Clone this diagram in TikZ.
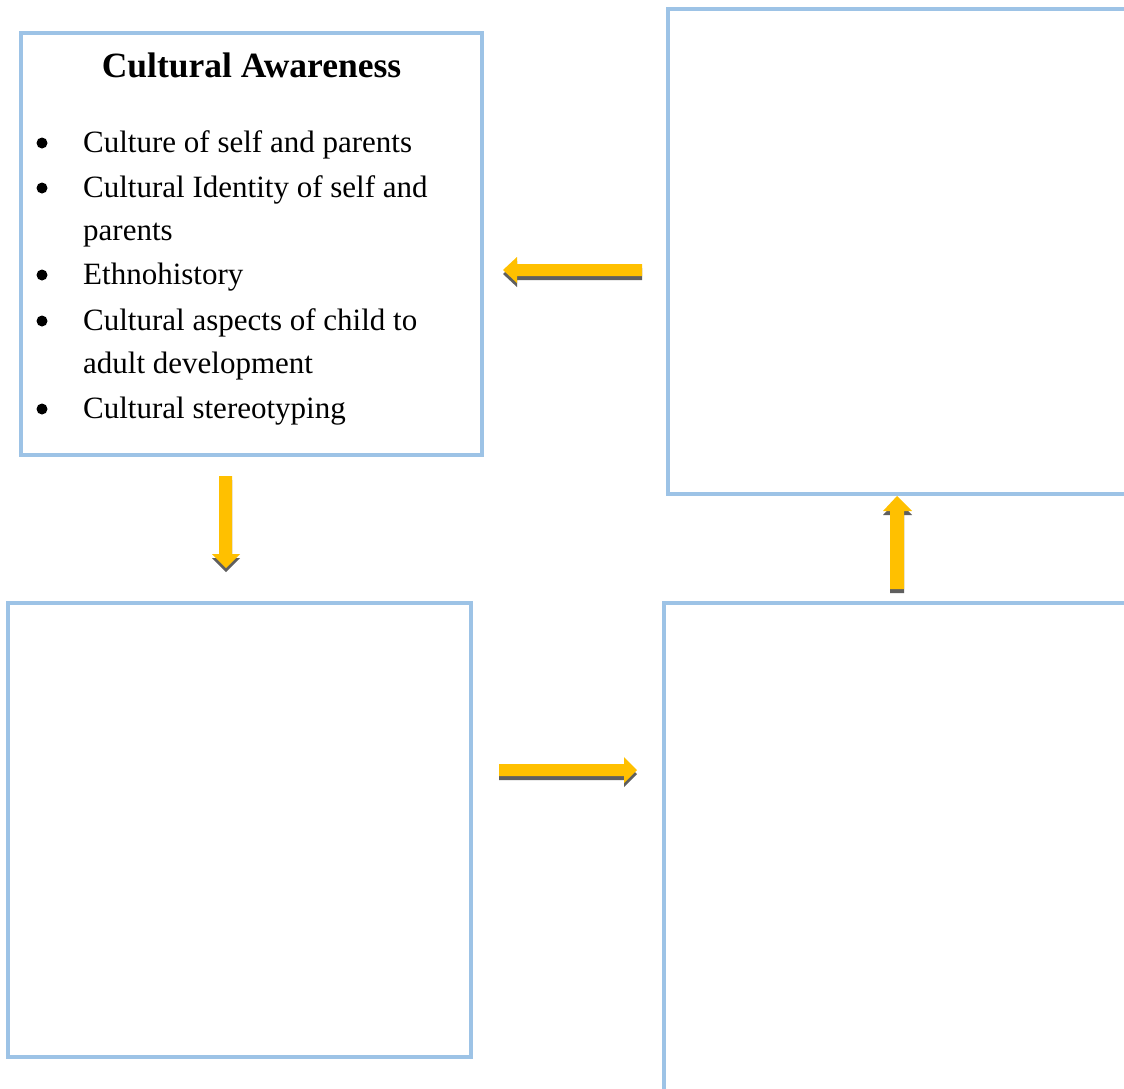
\documentclass[tikz,border=0pt]{standalone}
\usepackage{fontspec}
\setmainfont{Liberation Serif}
\definecolor{boxblue}{HTML}{9DC3E6}
\definecolor{arrowyellow}{HTML}{FFC000}
\definecolor{arrowshadow}{HTML}{5F5F5F}
\tikzset{
  panel/.style={draw=boxblue, line width=3.5pt, fill=white},
  itemtext/.style={anchor=base west, inner sep=0pt, font=\fontsize{31}{37}\selectfont},
  bulletdot/.style={circle, fill=black, inner sep=0pt, minimum size=11pt},
  titletext/.style={anchor=base, inner sep=0pt, font=\fontsize{35.5}{42}\selectfont\bfseries},
  blockarrow/.style={fill=arrowyellow},
  blockshadow/.style={fill=arrowshadow, yshift=-4pt}
}
\begin{document}
\begin{tikzpicture}[x=1pt, y=-1pt]
\useasboundingbox (0,0) rectangle (1124,1088);
\clip (0,0) rectangle (1124,1088);
\fill[white] (0,0) rectangle (1124,1088);

% panels
\draw[panel] (21,33) rectangle (482,455);
\draw[panel] (668,9) rectangle (1140,494);
\draw[panel] (8,603) rectangle (471,1057);
\draw[panel] (664,603) rectangle (1140,1110);

% title and list
\node[titletext] (title) at (251.5,77) {Cultural Awareness};
\foreach \y/\n in {152/1,197/2,284/3,330/4,418/5} {
  \node[bulletdot] (b\n) at (42,\y-9) {};
}
\node[itemtext] (i1) at (83,152) {Culture of self and parents};
\node[itemtext] (i2) at (83,197) {Cultural Identity of self and};
\node[itemtext] (i2b) at (83,240) {parents};
\node[itemtext] (i3) at (83,284) {Ethnohistory};
\node[itemtext] (i4) at (83,330) {Cultural aspects of child to};
\node[itemtext] (i4b) at (83,373) {adult development};
\node[itemtext] (i5) at (83,418) {Cultural stereotyping};

% arrow left (top-right box -> top-left box)
\foreach \s in {blockshadow, blockarrow} {
  \fill[\s] (642,264) -- (517,264) -- (517,257) -- (503,270) -- (517,283) -- (517,276) -- (642,276) -- cycle;
}
% arrow down (top-left box -> bottom-left box)
\foreach \s in {blockshadow, blockarrow} {
  \fill[\s] (219,476) -- (232,476) -- (232,554) -- (240,554) -- (226,568) -- (212,554) -- (219,554) -- cycle;
}
% arrow right (bottom-left box -> bottom-right box)
\foreach \s in {blockshadow, blockarrow} {
  \fill[\s] (499,764) -- (624,764) -- (624,757) -- (637,770) -- (624,783) -- (624,776) -- (499,776) -- cycle;
}
% arrow up (bottom-right box -> top-right box)
\foreach \s in {blockshadow, blockarrow} {
  \fill[\s] (890,589) -- (904,589) -- (904,511) -- (912,511) -- (897,496) -- (883,511) -- (890,511) -- cycle;
}
\end{tikzpicture}
\end{document}
